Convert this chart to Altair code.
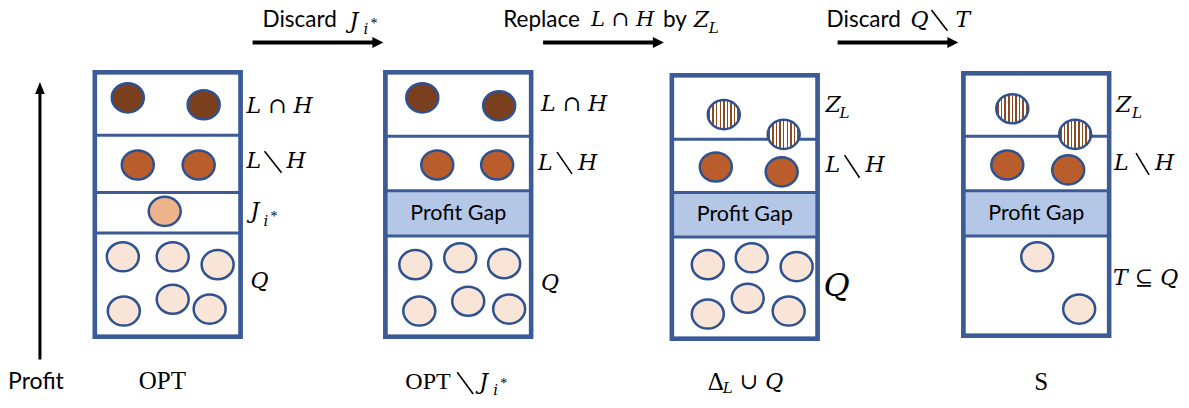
import altair as alt
import pandas as pd

# ---------------- data (diagram coordinates, in picture units) ----------------
box_x1 = [94, 385, 672, 964]
box_x2 = [240, 531, 818, 1110]
box_y1 = [73, 73, 76, 74]
box_y2 = [341, 341, 343, 340]

div_x1 = [94, 94, 94, 385, 385, 385, 672, 672, 672, 964, 964, 964]
div_x2 = [240, 240, 240, 531, 531, 531, 818, 818, 818, 1110, 1110, 1110]
div_y = [137, 195, 236, 138, 193, 239, 141, 195, 240, 138, 193, 239]

gap_x1 = [385, 672, 964]
gap_x2 = [531, 818, 1110]
gap_y1 = [193, 195, 193]
gap_y2 = [239, 240, 239]

circ_x = [127, 203, 137, 198, 164, 122, 172, 217, 123, 172, 209,
          422, 499, 437, 497, 415, 460, 504, 419, 468, 509,
          716, 782, 708, 752, 797, 708, 748, 789,
          1008, 1069, 1038, 1080]
circ_y = [99, 106, 167, 167, 214, 260, 260, 268, 315, 303, 313,
          99, 107, 167, 167, 268, 261, 267, 315, 305, 313,
          169, 174, 268, 261, 270, 318, 302, 315,
          167, 172, 260, 313]
circ_kind = ["LH", "LH", "LmH", "LmH", "J", "Q", "Q", "Q", "Q", "Q", "Q",
             "LH", "LH", "LmH", "LmH", "Q", "Q", "Q", "Q", "Q", "Q",
             "LmH", "LmH", "Q", "Q", "Q", "Q", "Q", "Q",
             "LmH", "LmH", "Q", "Q"]

hatch_x = [724, 784, 1013, 1076]
hatch_y = [116, 136, 110, 136]

arrow_x1 = [252, 543, 838]
arrow_x2 = [374, 655, 950]
arrow_tip = [383, 664, 959]
arrow_y = [43, 43, 43]

varrow_x = [39]
varrow_y1 = [364]
varrow_y2 = [92]
varrow_tip = [83]

# set-minus strokes ("\")
sm_x1 = [264, 557, 845, 1137, 932, 457]
sm_y1 = [153, 154, 157, 155, 10, 377]
sm_x2 = [281, 572, 860, 1150, 948, 473]
sm_y2 = [175, 176, 180, 177, 31, 399]

sansc_text = ["Profit", "Profit Gap", "Profit Gap", "Profit Gap"]
sansc_x = [35, 458, 745, 1037]
sansc_y = [387, 217, 218, 217]
sansc_size = [23, 21.5, 21.5, 21.5]

sansl_text = ["Discard", "Replace", "by", "Discard"]
sansl_x = [262, 503, 663, 827]
sansl_y = [20, 20, 20, 20]
sansl_size = [22.5, 22.5, 22.5, 22.5]

math_text = ["L ∩ H", "L", "H", "J", "Q",
             "L ∩ H", "L", "H", "Q",
             "Z", "L", "H", "Q",
             "Z", "L", "H", "T ⊆ Q",
             "J", "L ∩ H", "Z", "Q", "T",
             "J", "∪ Q"]
math_x = [246, 246, 286, 250, 250,
          541, 538, 578, 541,
          826, 826, 866, 824,
          1117, 1115, 1156, 1114,
          349, 591, 694, 911, 956,
          479, 740]
math_y = [107, 163, 163, 214, 285,
          105, 165, 165, 287,
          106, 167, 167, 290,
          106, 165, 165, 282,
          21, 20, 20, 20, 20,
          387, 387]
math_size = [22, 22, 22, 22, 22,
             22, 22, 22, 22,
             22, 22, 22, 32,
             22, 22, 22, 22,
             22, 21, 22, 22, 22,
             22, 22]

sub_text = ["i", "L", "L", "i", "L", "i", "L"]
sub_x = [263, 840, 1133, 363, 709, 493, 723]
sub_y = [224, 114, 114, 29, 28, 395, 393]
sub_size = [15, 15, 15, 15, 15, 15, 15]

star_text = ["*", "*", "*"]
star_x = [270, 370, 500]
star_y = [220, 24, 389]
star_size = [14, 14, 14]

up_text = ["OPT", "OPT", "Δ", "S"]
up_x = [138, 405, 708, 1035]
up_y = [386, 387, 387, 387]
up_size = [25, 24, 25, 25]

# ---------------- styles ----------------
BLUE = "#3C5B96"
CSTROKE = "#2F528F"
kind_domain = ["LH", "LmH", "J", "Q"]
kind_range = ["#7A3F1C", "#B85D2B", "#EDB38A", "#F9E5D7"]

kx = 0.5523
b = 0.91
ELLIPSE = (f"M1,0 C1,{kx*b:.4f} {kx:.4f},{b} 0,{b} C-{kx:.4f},{b} -1,{kx*b:.4f} -1,0 "
           f"C-1,-{kx*b:.4f} -{kx:.4f},-{b} 0,-{b} C{kx:.4f},-{b} 1,-{kx*b:.4f} 1,0 Z")
HEAD_R = "M0,0 L-1,-0.5 L-1,0.5 Z"
HEAD_U = "M0,0 L-0.4,1 L0.4,1 Z"

n = 9
stops = [alt.GradientStop(offset=0, color="white")]
for k in range(n):
    a = (k + 0.3) / n
    c = (k + 0.72) / n
    stops += [alt.GradientStop(offset=a, color="white"),
              alt.GradientStop(offset=a, color="#8A4A22"),
              alt.GradientStop(offset=c, color="#8A4A22"),
              alt.GradientStop(offset=c, color="white")]
stops.append(alt.GradientStop(offset=1, color="white"))
HATCH = alt.LinearGradient(gradient="linear", stops=stops, x1=0, x2=1, y1=0, y2=0)

XS = alt.Scale(domain=[8, 1179], nice=False, zero=False)
YS = alt.Scale(domain=[8, 398], nice=False, zero=False, reverse=True)


def X(f):
    return alt.X(f, type="quantitative", scale=XS, axis=None)


def Y(f):
    return alt.Y(f, type="quantitative", scale=YS, axis=None)


boxes = pd.DataFrame({"x1": box_x1, "x2": box_x2, "y1": box_y1, "y2": box_y2})
divs = pd.DataFrame({"x1": div_x1, "x2": div_x2, "y": div_y})
gaps = pd.DataFrame({"x1": gap_x1, "x2": gap_x2, "y1": gap_y1, "y2": gap_y2})
circs = pd.DataFrame({"x": circ_x, "y": circ_y, "kind": circ_kind})
hatch = pd.DataFrame({"x": hatch_x, "y": hatch_y})
arrows = pd.DataFrame({"x1": arrow_x1, "x2": arrow_x2, "tip": arrow_tip, "y": arrow_y})
varrow = pd.DataFrame({"x": varrow_x, "y1": varrow_y1, "y2": varrow_y2, "tip": varrow_tip})
setminus = pd.DataFrame({"x1": sm_x1, "y1": sm_y1, "x2": sm_x2, "y2": sm_y2})


def tdf(t, x, y, s):
    return pd.DataFrame({"t": t, "x": x, "y": y, "s": s})


box_bg = alt.Chart(boxes).mark_rect(fill="white", stroke=BLUE, strokeWidth=4).encode(
    x=X("x1"), x2=alt.X2("x2"), y=Y("y1"), y2=alt.Y2("y2"))
gap_layer = alt.Chart(gaps).mark_rect(fill="#B4C7E7").encode(
    x=X("x1"), x2=alt.X2("x2"), y=Y("y1"), y2=alt.Y2("y2"))
div_layer = alt.Chart(divs).mark_rule(stroke=BLUE, strokeWidth=3).encode(
    x=X("x1"), x2=alt.X2("x2"), y=Y("y"))
box_line = alt.Chart(boxes).mark_rect(fillOpacity=0, fill="white", stroke=BLUE, strokeWidth=4.5).encode(
    x=X("x1"), x2=alt.X2("x2"), y=Y("y1"), y2=alt.Y2("y2"))

circ_layer = alt.Chart(circs).mark_point(
    shape=ELLIPSE, size=1024, filled=True, opacity=1, stroke=CSTROKE, strokeWidth=2.5
).encode(x=X("x"), y=Y("y"),
         fill=alt.Fill("kind:N", scale=alt.Scale(domain=kind_domain, range=kind_range), legend=None))
hatch_layer = alt.Chart(hatch).mark_point(
    shape=ELLIPSE, size=1024, filled=True, opacity=1, fill=HATCH, stroke=CSTROKE, strokeWidth=2.5
).encode(x=X("x"), y=Y("y"))

arrow_line = alt.Chart(arrows).mark_rule(color="black", strokeWidth=4).encode(
    x=X("x1"), x2=alt.X2("x2"), y=Y("y"))
arrow_head = alt.Chart(arrows).mark_point(
    shape=HEAD_R, size=484, filled=True, opacity=1, color="black").encode(x=X("tip"), y=Y("y"))
varrow_line = alt.Chart(varrow).mark_rule(color="black", strokeWidth=3).encode(
    x=X("x"), y=Y("y1"), y2=alt.Y2("y2"))
varrow_head = alt.Chart(varrow).mark_point(
    shape=HEAD_U, size=576, filled=True, opacity=1, color="black").encode(x=X("x"), y=Y("tip"))
sm_layer = alt.Chart(setminus).mark_rule(color="black", strokeWidth=1.6).encode(
    x=X("x1"), x2=alt.X2("x2"), y=Y("y1"), y2=alt.Y2("y2"))


def text_layer(df, font, align, style="normal"):
    return alt.Chart(df).mark_text(font=font, align=align, baseline="middle",
                                   fontStyle=style, color="black").encode(
        x=X("x"), y=Y("y"), text="t:N", size=alt.Size("s:Q", scale=None))


t_sansc = text_layer(tdf(sansc_text, sansc_x, sansc_y, sansc_size), "Lato", "center")
t_sansl = text_layer(tdf(sansl_text, sansl_x, sansl_y, sansl_size), "Lato", "left")
t_math = text_layer(tdf(math_text, math_x, math_y, math_size), "DejaVu Serif", "left", "italic")
t_sub = text_layer(tdf(sub_text, sub_x, sub_y, sub_size), "DejaVu Serif", "left", "italic")
t_star = text_layer(tdf(star_text, star_x, star_y, star_size), "Liberation Serif", "left")
t_up = text_layer(tdf(up_text, up_x, up_y, up_size), "Liberation Serif", "left")

chart = alt.layer(
    box_bg, gap_layer, div_layer, box_line, circ_layer, hatch_layer,
    arrow_line, arrow_head, varrow_line, varrow_head, sm_layer,
    t_sansc, t_sansl, t_math, t_sub, t_star, t_up
).properties(
    width=1171, height=390, padding=0,
    autosize=alt.AutoSizeParams(type="fit", contains="padding")
).configure_view(stroke=None)

chart.save("out.html", embed_options={"renderer": "svg", "actions": False})
